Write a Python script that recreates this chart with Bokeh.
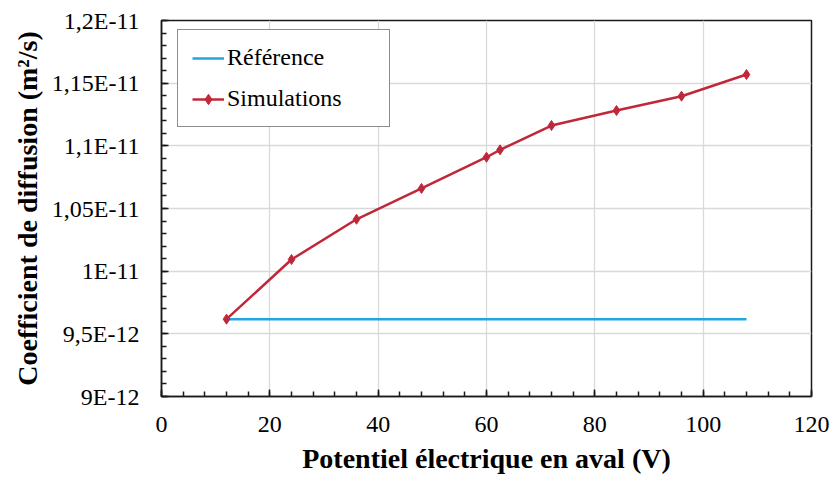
from bokeh.plotting import figure
from bokeh.models import (FixedTicker, CustomJSTickFormatter, Range1d, Legend, LegendItem,
                          GlobalInlineStyleSheet, InlineStyleSheet)
from bokeh.embed import file_html
from bokeh.resources import INLINE

# ---- data ----
x_ref = [12, 108]
y_ref = [9.617e-12, 9.617e-12]

x_sim = [12, 24, 36, 48, 60, 62.5, 72, 84, 96, 108]
y_sim = [9.617e-12, 1.0093e-11, 1.0414e-11, 1.0660e-11, 1.0909e-11,
         1.0968e-11, 1.1162e-11, 1.1282e-11, 1.1396e-11, 1.1569e-11]

x_ticks = [0, 20, 40, 60, 80, 100, 120]
y_ticks = [9.0e-12, 9.5e-12, 1.0e-11, 1.05e-11, 1.1e-11, 1.15e-11, 1.2e-11]
y_tick_labels = ["9E-12", "9,5E-12", "1E-11", "1,05E-11", "1,1E-11", "1,15E-11", "1,2E-11"]
x_minor = [i * 4 for i in range(31)]
y_minor = [9.0e-12 + i * 0.1e-12 for i in range(31)]

SERIF = "Liberation Serif"
BLUE = "#22A6DE"
RED = "#C0283A"

css = 'text { font-family: "Liberation Serif", "Times New Roman", serif !important; }'

p = figure(width=830, height=479, output_backend="svg", toolbar_location=None,
           x_range=Range1d(0, 120), y_range=Range1d(9.0e-12, 1.2e-11),
           min_border_left=161, min_border_right=19, min_border_top=20, min_border_bottom=83)
p.stylesheets = [GlobalInlineStyleSheet(css=css), InlineStyleSheet(css=css)]

p.background_fill_color = "white"
p.border_fill_color = "white"
p.outline_line_color = "#1a1a1a"
p.outline_line_width = 1.5

r_ref = p.line(x_ref, y_ref, line_color=BLUE, line_width=2.5)
r_sim = p.line(x_sim, y_sim, line_color=RED, line_width=2.5)
r_sim_m = p.scatter(x_sim, y_sim, marker="diamond", size=10, fill_color=RED, line_color=RED)

# axes
p.xaxis.ticker = FixedTicker(ticks=x_ticks, minor_ticks=x_minor)
p.yaxis.ticker = FixedTicker(ticks=y_ticks, minor_ticks=y_minor)
p.yaxis.formatter = CustomJSTickFormatter(args=dict(tv=y_ticks, lb=y_tick_labels), code="""
let best = 0; let bd = Infinity;
for (let i = 0; i < tv.length; i++) { const d = Math.abs(tv[i] - tick); if (d < bd) { bd = d; best = i; } }
return lb[best];
""")

p.axis.axis_line_color = "#1a1a1a"
p.axis.axis_line_width = 1.5
p.axis.major_tick_line_color = "#1a1a1a"
p.axis.minor_tick_line_color = "#1a1a1a"
p.axis.major_tick_line_width = 1.5
p.axis.minor_tick_line_width = 1.5
p.axis.major_tick_in = 7
p.axis.major_tick_out = 0
p.axis.minor_tick_in = 5
p.axis.minor_tick_out = 0
p.axis.major_label_text_font = SERIF
p.axis.major_label_text_font_size = "24px"
p.axis.major_label_text_color = "black"
p.axis.axis_label_text_font = SERIF
p.axis.axis_label_text_font_size = "28px"
p.axis.axis_label_text_font_style = "bold"
p.axis.axis_label_text_color = "black"

p.xaxis.axis_label = "Potentiel électrique en aval (V)"
p.yaxis.axis_label = "Coefficient de diffusion (m²/s)"
p.xaxis.major_label_standoff = 20
p.yaxis.major_label_standoff = 22
p.xaxis.axis_label_standoff = 8
p.yaxis.axis_label_standoff = 6

p.xgrid.grid_line_color = "#d9d9d9"
p.ygrid.grid_line_color = "#d9d9d9"
p.xgrid.grid_line_width = 1.3
p.ygrid.grid_line_width = 1.3

legend = Legend(items=[LegendItem(label="Référence", renderers=[r_ref]),
                       LegendItem(label="Simulations", renderers=[r_sim, r_sim_m])],
                location=(16, 269),
                label_text_font=SERIF, label_text_font_size="24px",
                label_text_color="black",
                border_line_color="#1a1a1a", border_line_width=1.5,
                padding=14, spacing=14, label_height=26, glyph_height=26, glyph_width=32,
                label_standoff=3, label_width=148, margin=0, background_fill_alpha=1.0)
p.add_layout(legend)

open("out.html", "w").write(file_html(p, INLINE))
